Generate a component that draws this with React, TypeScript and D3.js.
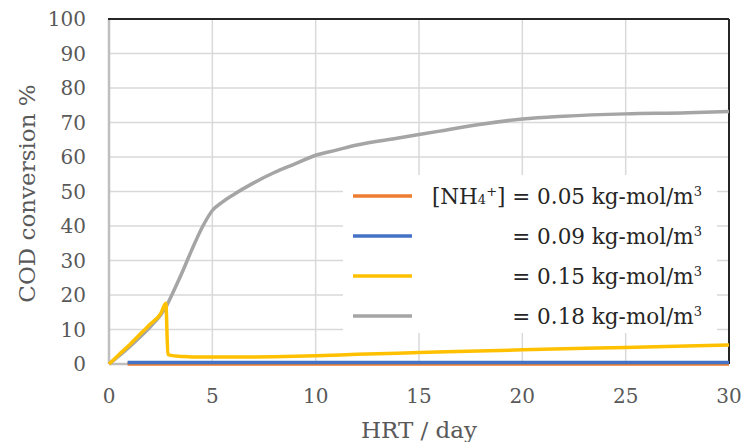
import { useEffect, useRef } from "react";
import * as d3 from "d3";

// HRT (day) and COD conversion (%)
const hrt005 = [0.9, 5, 10, 15, 20, 25, 30];
const cod005 = [0.0, 0.0, 0.0, 0.0, 0.0, 0.0, 0.0];

const hrt009 = [0.9, 5, 10, 15, 20, 25, 30];
const cod009 = [0.4, 0.4, 0.4, 0.4, 0.4, 0.4, 0.4];

const hrt015 = [0, 0.5, 1, 1.5, 2, 2.5, 2.75, 2.85, 3, 3.5, 4, 5, 6, 8, 10, 12, 15, 20, 25, 30];
const cod015 = [0, 2.8, 5.6, 8.6, 11.6, 14.6, 17.6, 2.8, 2.5, 2.2, 2.0, 2.0, 2.0, 2.1, 2.4, 2.8, 3.3, 4.1, 4.8, 5.5];

const hrt018 = [0, 0.5, 1, 1.5, 2, 2.5, 2.8, 3, 3.5, 4, 4.5, 5, 5.5, 6, 7, 8, 9, 10, 11, 12, 14, 16, 18, 20, 22, 25, 28, 30];
const cod018 = [0, 2.4, 5, 7.8, 10.8, 14.2, 17, 19.5, 26, 33, 39.5, 44.5, 47, 49, 52.5, 55.5, 58, 60.5, 62, 63.5, 65.5, 67.5, 69.5, 71, 71.8, 72.5, 72.8, 73.2];

const xTicks = [0, 5, 10, 15, 20, 25, 30];
const yTicks = [0, 10, 20, 30, 40, 50, 60, 70, 80, 90, 100];

const legendValues = ["0.05", "0.09", "0.15", "0.18"];
const seriesColors = ["#ED7D31", "#4472C4", "#FFC000", "#A5A5A5"];

const FONT = "'DejaVu Serif', serif";
const TEXT = "#595959";

const App = () => {
  const svgRef = useRef<SVGSVGElement | null>(null);

  useEffect(() => {
    const width = 743;
    const height = 442;
    const margin = { top: 19, right: 14, bottom: 78, left: 109 };
    const innerWidth = width - margin.left - margin.right;
    const innerHeight = height - margin.top - margin.bottom;

    d3.select(svgRef.current).selectAll("*").remove();

    const svg = d3
      .select(svgRef.current)
      .attr("width", width)
      .attr("height", height);

    svg.append("rect").attr("width", width).attr("height", height).attr("fill", "white");

    const g = svg
      .append("g")
      .attr("transform", `translate(${margin.left},${margin.top})`);

    const x = d3.scaleLinear().domain([0, 30]).range([0, innerWidth]);
    const y = d3.scaleLinear().domain([0, 100]).range([innerHeight, 0]);

    // grid lines
    g.append("g")
      .selectAll("line")
      .data(yTicks.slice(1, -1))
      .enter()
      .append("line")
      .attr("x1", 0)
      .attr("x2", innerWidth)
      .attr("y1", (d) => y(d))
      .attr("y2", (d) => y(d))
      .style("stroke", "#d9d9d9")
      .style("stroke-width", 1.5);

    g.append("g")
      .selectAll("line")
      .data(xTicks.slice(1, -1))
      .enter()
      .append("line")
      .attr("x1", (d) => x(d))
      .attr("x2", (d) => x(d))
      .attr("y1", 0)
      .attr("y2", innerHeight)
      .style("stroke", "#d9d9d9")
      .style("stroke-width", 1.5);

    // frame: gray left/bottom, dark top/right
    g.append("line")
      .attr("x1", 0).attr("x2", 0).attr("y1", 0).attr("y2", innerHeight)
      .style("stroke", "#bfbfbf").style("stroke-width", 2.5);
    g.append("line")
      .attr("x1", 0).attr("x2", innerWidth).attr("y1", innerHeight).attr("y2", innerHeight)
      .style("stroke", "#bfbfbf").style("stroke-width", 2.5);
    g.append("line")
      .attr("x1", -1).attr("x2", innerWidth).attr("y1", 0).attr("y2", 0)
      .style("stroke", "#262626").style("stroke-width", 2);
    g.append("line")
      .attr("x1", innerWidth).attr("x2", innerWidth).attr("y1", 0).attr("y2", innerHeight)
      .style("stroke", "#262626").style("stroke-width", 2);

    // tick labels
    g.append("g")
      .selectAll("text")
      .data(yTicks)
      .enter()
      .append("text")
      .attr("x", -23)
      .attr("y", (d) => y(d))
      .attr("dy", "0.35em")
      .attr("text-anchor", "end")
      .style("fill", TEXT)
      .style("font-family", FONT)
      .style("font-size", "20px")
      .text((d) => d);

    g.append("g")
      .selectAll("text")
      .data(xTicks)
      .enter()
      .append("text")
      .attr("x", (d) => x(d))
      .attr("y", innerHeight + 39)
      .attr("text-anchor", "middle")
      .style("fill", TEXT)
      .style("font-family", FONT)
      .style("font-size", "20px")
      .text((d) => d);

    // axis titles
    svg
      .append("text")
      .attr("x", margin.left + innerWidth / 2)
      .attr("y", 438)
      .attr("text-anchor", "middle")
      .style("fill", TEXT)
      .style("font-family", FONT)
      .style("font-size", "23px")
      .text("HRT / day");

    svg
      .append("text")
      .attr("transform", `translate(35,${margin.top + innerHeight / 2 + 2}) rotate(-90)`)
      .attr("text-anchor", "middle")
      .style("fill", TEXT)
      .style("font-family", FONT)
      .style("font-size", "23px")
      .text("COD conversion %");

    // series
    const series = [
      { xs: hrt005, ys: cod005 },
      { xs: hrt009, ys: cod009 },
      { xs: hrt015, ys: cod015 },
      { xs: hrt018, ys: cod018 },
    ];

    const line = d3
      .line<[number, number]>()
      .x((d) => x(d[0]))
      .y((d) => y(d[1]))
      .curve(d3.curveMonotoneX);

    // draw in order so gray sits under yellow at the start
    [3, 2, 0, 1].forEach((i) => {
      const pts = series[i].xs.map((v, k) => [v, series[i].ys[k]] as [number, number]);
      g.append("path")
        .attr("d", line(pts))
        .attr("fill", "none")
        .style("stroke", seriesColors[i])
        .style("stroke-width", 3.5)
        .style("stroke-linejoin", "round");
    });

    // legend
    const lg = svg.append("g");
    lg.append("rect")
      .attr("x", 343)
      .attr("y", 175)
      .attr("width", 374)
      .attr("height", 158)
      .attr("fill", "white");

    legendValues.forEach((v, i) => {
      const cy = 196 + i * 40;
      lg.append("line")
        .attr("x1", 353)
        .attr("x2", 412)
        .attr("y1", cy)
        .attr("y2", cy)
        .style("stroke", seriesColors[i])
        .style("stroke-width", 3.5);

      const t = lg
        .append("text")
        .attr("x", 702)
        .attr("y", cy + 8)
        .attr("text-anchor", "end")
        .style("fill", "#262626")
        .style("font-family", FONT)
        .style("font-size", "21.5px");

      if (i === 0) {
        t.append("tspan").text("[NH");
        t.append("tspan").style("font-size", "13px").text("4");
        t.append("tspan").style("font-size", "13px").attr("dy", -8).text("+");
        t.append("tspan").attr("dy", 8).text(`] = ${v} kg-mol/m`);
      } else {
        t.append("tspan").text(`= ${v} kg-mol/m`);
      }
      t.append("tspan").style("font-size", "13px").attr("dy", -8).text("3");
    });
  }, []);

  return (
    <div style={{ position: "absolute", left: 0, top: 0 }}>
      <svg ref={svgRef}></svg>
    </div>
  );
};

export default App;
